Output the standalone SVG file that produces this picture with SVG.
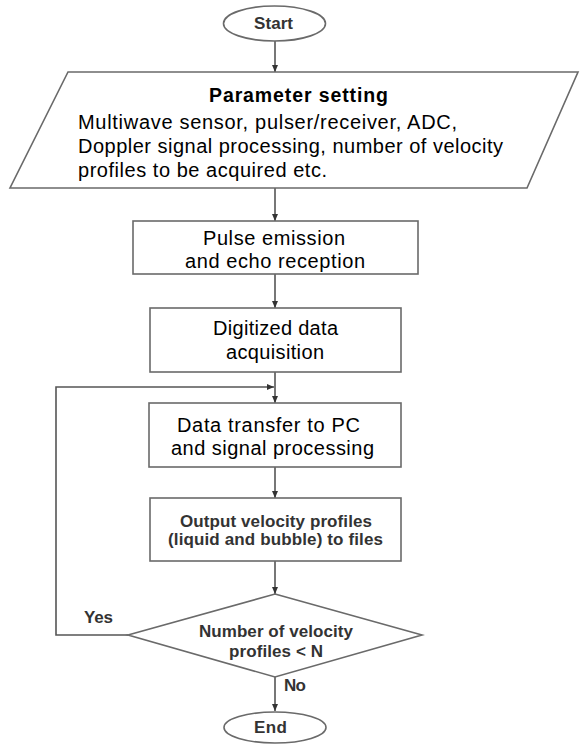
<svg xmlns="http://www.w3.org/2000/svg" width="581" height="746" viewBox="0 0 581 746">
<style>
.shape{fill:#fff;stroke:#6a6a6a;stroke-width:1.6}
.line{fill:none;stroke:#555;stroke-width:1.6}
.t{font-family:"Liberation Sans",Arial,sans-serif;font-size:20px;fill:#000}
.b{font-family:"Liberation Sans",Arial,sans-serif;font-size:17px;font-weight:bold;fill:#333}
.bk{font-family:"Liberation Sans",Arial,sans-serif;font-size:19.5px;font-weight:bold;fill:#000}
</style>
<defs>
<marker id="arr" markerWidth="8" markerHeight="8" refX="7" refY="4" orient="auto" markerUnits="userSpaceOnUse">
<path d="M0,1 L7,4 L0,7 z" fill="#333"/>
</marker>
</defs>
<g id="connectors">
<line class="line" x1="275" y1="41" x2="275" y2="72" marker-end="url(#arr)"/>
<line class="line" x1="275" y1="188" x2="275" y2="221" marker-end="url(#arr)"/>
<line class="line" x1="275" y1="274" x2="275" y2="308" marker-end="url(#arr)"/>
<line class="line" x1="275" y1="372" x2="275" y2="403" marker-end="url(#arr)"/>
<polyline class="line" points="128,635 56,635 56,387 274,387" marker-end="url(#arr)"/>
<line class="line" x1="275" y1="467" x2="275" y2="498" marker-end="url(#arr)"/>
<line class="line" x1="275" y1="561" x2="275" y2="594" marker-end="url(#arr)"/>
<line class="line" x1="275" y1="677" x2="275" y2="711" marker-end="url(#arr)"/>
<text class="b" x="84" y="623" textLength="29" font-size="16">Yes</text>
<text class="b" x="284" y="691" textLength="22" font-size="16">No</text>
</g>
<g id="start">
<ellipse class="shape" cx="274.5" cy="23.5" rx="51" ry="17.5"/>
<text class="b" x="273.5" y="29" text-anchor="middle" textLength="39">Start</text>
</g>
<g id="params">
<polygon class="shape" points="68,72 578,72 527,188 10,188"/>
<text class="bk" x="298.5" y="102" text-anchor="middle" textLength="179">Parameter setting</text>
<text class="t" x="78" y="129" textLength="379">Multiwave sensor, pulser/receiver, ADC,</text>
<text class="t" x="78" y="153" textLength="425">Doppler signal processing, number of velocity</text>
<text class="t" x="78" y="177" textLength="249">profiles to be acquired etc.</text>
</g>
<g id="pulse">
<rect class="shape" x="133" y="221" width="285" height="53"/>
<text class="t" x="274" y="245" text-anchor="middle" textLength="142">Pulse emission</text>
<text class="t" x="275" y="268" text-anchor="middle" textLength="180">and echo reception</text>
</g>
<g id="digitized">
<rect class="shape" x="150" y="308" width="251" height="64"/>
<text class="t" x="275.5" y="335" text-anchor="middle" textLength="125">Digitized data</text>
<text class="t" x="275" y="359" text-anchor="middle" textLength="98">acquisition</text>
</g>
<g id="transfer">
<rect class="shape" x="149" y="403" width="252" height="64"/>
<text class="t" x="268.5" y="432" text-anchor="middle" textLength="183">Data transfer to PC</text>
<text class="t" x="272.5" y="455" text-anchor="middle" textLength="203">and signal processing</text>
</g>
<g id="output">
<rect class="shape" x="150" y="498" width="251" height="63"/>
<text class="b" x="276" y="527" text-anchor="middle" textLength="192">Output velocity profiles</text>
<text class="b" x="275.5" y="545" text-anchor="middle" textLength="215">(liquid and bubble) to files</text>
</g>
<g id="decision">
<polygon class="shape" points="275,594 422,635 275,677 128,635"/>
<text class="b" x="276" y="637" text-anchor="middle" textLength="154">Number of velocity</text>
<text class="b" x="276" y="657" text-anchor="middle" textLength="94">profiles &lt; N</text>
</g>
<g id="end">
<ellipse class="shape" cx="275" cy="727.5" rx="51" ry="15.5"/>
<text class="b" x="270.5" y="733" text-anchor="middle" textLength="33">End</text>
</g>
</svg>
